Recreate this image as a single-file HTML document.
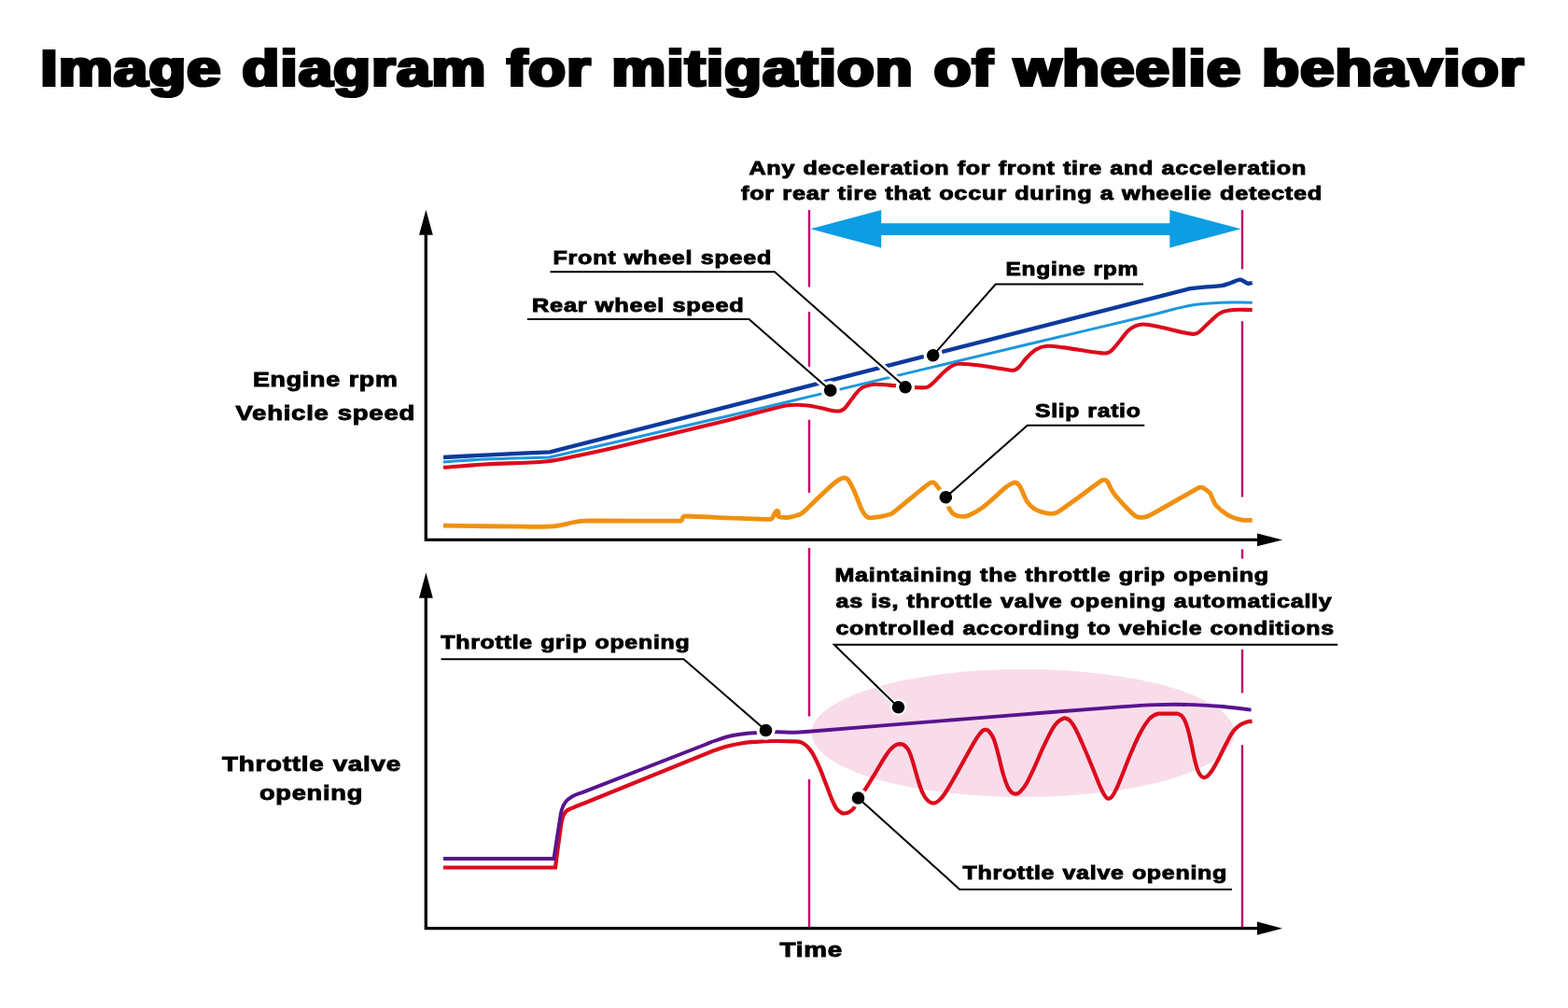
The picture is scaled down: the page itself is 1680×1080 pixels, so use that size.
<!DOCTYPE html>
<html lang="en"><head><meta charset="utf-8"><title>Image diagram for mitigation of wheelie behavior</title>
<style>html,body{margin:0;padding:0;background:#fff}svg{display:block}text{font-family:"Liberation Sans",Arial,Helvetica,sans-serif;font-weight:700;fill:#000;stroke:#000;stroke-linejoin:miter}.T{font-size:56px;letter-spacing:1.2px;word-spacing:2px;stroke-width:2.2px}.S{font-size:20.2px;letter-spacing:.6px;word-spacing:.5px;stroke-width:.9px}.A{font-size:21.4px;letter-spacing:.6px;word-spacing:.5px;stroke-width:.9px}</style></head><body>
<svg width="1680" height="1080" viewBox="0 0 1680 1080">
<defs><filter id="ft" filterUnits="userSpaceOnUse" x="0" y="0" width="1680" height="140"><feMorphology operator="dilate" radius="1 0"/></filter></defs>
<rect width="1680" height="1080" fill="#fff"/>
<ellipse cx="1096.2" cy="785.5" rx="226.6" ry="68.5" fill="#f9dcea"/>
<g stroke="#c2006a" stroke-width="2.4" fill="none">
<line x1="867.0" y1="225.0" x2="867.0" y2="307.5"/><line x1="867.0" y1="334.0" x2="867.0" y2="392.8"/><line x1="867.0" y1="449.8" x2="867.0" y2="528.0"/><line x1="867.0" y1="587.0" x2="867.0" y2="767.5"/><line x1="867.0" y1="835.0" x2="867.0" y2="994.0"/>
<line x1="1331.0" y1="225.0" x2="1331.0" y2="288.3"/><line x1="1331.0" y1="344.2" x2="1331.0" y2="532.5"/><line x1="1331.0" y1="588.5" x2="1331.0" y2="598.6"/><line x1="1331.0" y1="695.8" x2="1331.0" y2="742.5"/><line x1="1331.0" y1="798.2" x2="1331.0" y2="994.0"/>
</g>
<path d="M868.3 245.3L944.2 225V239.2H1253.3V225L1329.5 245.3L1253.3 265.5V252H944.2V265.5Z" fill="#0c9de4"/>
<g fill="none" stroke-linejoin="miter" stroke-miterlimit="3" stroke-linecap="butt">
<path d="M475.0 563.2C505.6 563.6 529.4 563.9 560.0 564.2C569.9 564.3 577.6 564.6 587.5 564.2C592.0 564.1 595.5 563.6 600.0 562.8C605.4 561.9 609.6 560.5 615.0 559.5C618.6 558.9 621.4 558.5 625.0 558.2C630.4 557.9 634.6 558.0 640.0 558.0C672.1 558.0 697.2 558.1 729.3 558.1C729.8 557.7 730.3 557.5 730.6 557.0C731.3 555.9 731.1 554.7 732.0 553.8C732.6 553.2 733.5 553.3 734.3 553.0C767.0 554.2 792.3 555.7 825.0 556.4C826.0 556.4 826.9 555.8 827.5 555.0C828.7 553.4 828.9 551.7 830.0 550.0C830.7 549.0 831.1 547.6 832.3 547.5C833.3 547.4 834.0 548.5 834.2 549.5C834.5 550.7 833.0 551.9 833.6 553.0C834.1 554.0 835.4 554.1 836.5 554.2C839.5 554.5 842.0 554.7 845.0 554.3C848.8 553.8 851.8 553.1 855.4 551.8C857.5 551.0 859.1 550.0 860.8 548.6C864.9 545.2 867.6 542.1 871.5 538.4C874.6 535.5 876.9 533.2 880.0 530.3C885.4 525.4 889.3 521.3 895.0 516.7C897.3 514.9 899.3 513.6 902.0 512.6C903.5 512.0 905.0 511.7 906.5 512.3C908.2 513.0 909.1 514.4 910.0 516.0C912.5 520.1 914.0 523.6 916.0 528.0C918.8 534.4 920.3 539.7 923.3 546.0C924.6 548.7 925.8 550.9 928.0 553.0C929.4 554.3 931.1 555.0 933.0 554.9C940.4 554.4 946.2 553.4 953.3 551.3C956.1 550.5 957.7 548.6 960.0 546.8C969.7 539.1 977.0 532.8 986.7 525.0C990.0 522.3 992.4 520.0 996.0 517.8C997.3 517.0 998.6 516.6 1000.0 516.9C1001.4 517.2 1002.1 518.4 1003.0 519.5C1005.7 522.8 1007.9 525.3 1010.0 529.0C1012.9 534.2 1013.9 538.8 1016.7 544.0C1018.2 546.8 1019.4 549.2 1022.0 551.0C1024.5 552.7 1027.0 553.2 1030.0 553.4C1032.9 553.6 1035.3 553.4 1038.0 552.2C1043.8 549.7 1048.2 547.1 1053.3 543.3C1062.8 536.1 1069.1 529.2 1078.3 521.7C1080.5 519.9 1082.4 518.7 1085.0 517.6C1086.3 517.1 1087.7 516.7 1089.0 517.3C1090.9 518.2 1092.0 519.7 1093.0 521.5C1096.0 526.7 1096.8 531.6 1100.0 536.7C1102.2 540.2 1104.6 542.7 1108.0 545.0C1111.2 547.2 1114.3 547.9 1118.0 549.0C1121.2 549.9 1123.7 550.6 1127.0 550.4C1129.6 550.3 1131.8 549.7 1134.0 548.2C1151.0 536.9 1163.4 527.0 1180.0 515.0C1181.3 514.7 1182.2 514.0 1183.5 514.2C1184.7 514.4 1185.8 515.0 1186.5 516.0C1188.2 518.3 1188.6 520.6 1190.0 523.0C1192.0 526.3 1193.5 529.0 1196.0 532.0C1201.8 538.8 1206.6 543.8 1213.0 550.0C1214.9 551.8 1216.5 553.2 1219.0 554.0C1221.4 554.8 1223.5 554.5 1226.0 554.2C1228.3 553.9 1230.0 553.3 1232.0 552.2C1250.2 542.3 1264.0 534.0 1282.0 523.8C1283.4 523.2 1284.5 522.3 1286.0 522.2C1287.5 522.1 1288.7 522.4 1290.0 523.2C1292.6 524.8 1294.6 526.2 1296.5 528.5C1297.9 530.2 1298.0 532.1 1299.0 534.0C1300.5 536.9 1301.1 539.6 1303.3 542.0C1307.0 546.0 1310.4 548.6 1315.0 551.5C1318.3 553.6 1321.3 554.6 1325.0 555.8C1327.8 556.7 1330.1 557.0 1333.0 557.3C1336.1 557.6 1338.6 557.4 1341.7 557.5" stroke="#f0900f" stroke-width="4.8"/>
<path d="M475.0 500.8C491.2 499.6 503.8 498.5 520.0 497.5C544.0 496.1 562.8 496.5 586.7 494.2C598.8 493.0 608.1 490.4 620.0 488.0C634.4 485.0 645.6 482.5 660.0 479.2C681.6 474.2 698.4 470.0 720.0 464.8C741.6 459.6 758.4 455.6 780.0 450.2C798.0 445.7 812.0 441.8 830.0 437.3C834.3 436.2 837.6 435.3 842.0 434.6C846.0 434.0 849.2 433.8 853.3 433.8C856.4 433.7 858.9 433.9 862.0 434.2C865.5 434.5 868.2 434.7 871.7 435.4C877.7 436.5 882.3 437.9 888.3 439.2C891.1 439.8 893.2 440.3 896.0 440.5C897.6 440.6 899.0 440.7 900.5 440.2C902.3 439.6 903.7 438.9 905.0 437.5C908.4 433.9 910.2 430.5 913.3 426.7C916.2 423.0 918.1 419.7 921.7 416.7C924.2 414.6 926.9 413.9 930.0 413.0C932.9 412.1 935.3 411.7 938.3 411.7C946.1 411.8 952.2 412.7 960.0 413.3C969.0 414.0 976.0 415.0 985.0 415.3C988.2 415.4 990.9 415.7 994.0 414.6C996.6 413.7 998.0 411.8 1000.0 410.0C1004.5 405.9 1007.4 402.0 1012.0 398.0C1015.3 395.1 1018.0 392.8 1022.0 391.0C1024.6 389.8 1027.1 389.6 1030.0 389.7C1037.2 389.8 1042.8 390.6 1050.0 391.5C1060.8 392.9 1069.2 394.7 1080.0 396.2C1082.5 396.5 1084.6 397.1 1087.0 396.5C1089.1 395.9 1090.5 394.6 1092.0 393.0C1095.2 389.8 1096.8 386.5 1100.0 383.3C1103.3 379.9 1105.8 376.9 1110.0 374.5C1113.8 372.3 1117.3 371.1 1121.7 370.8C1128.3 370.3 1133.4 371.6 1140.0 372.4C1153.7 374.2 1164.3 376.2 1178.0 378.0C1180.9 378.4 1183.2 378.8 1186.0 378.3C1188.0 377.9 1189.5 376.9 1191.0 375.5C1194.6 372.1 1196.8 368.8 1200.0 365.0C1203.3 361.1 1205.3 357.5 1209.0 354.0C1211.4 351.8 1213.7 350.4 1216.7 349.2C1219.5 348.1 1222.0 347.4 1225.0 347.5C1230.5 347.6 1234.6 348.7 1240.0 349.8C1251.6 352.1 1260.4 354.7 1272.0 357.0C1274.8 357.6 1277.1 358.1 1280.0 357.8C1282.0 357.6 1283.5 356.7 1285.0 355.5C1289.3 352.1 1291.9 348.6 1296.0 345.0C1300.3 341.2 1303.2 337.6 1308.3 335.0C1312.7 332.8 1316.8 332.4 1321.7 332.0C1328.9 331.4 1334.5 332.0 1341.7 332.0" stroke="#dc0a1c" stroke-width="4.1"/>
<path d="M475.0 495.0C491.2 494.0 503.8 492.8 520.0 492.1C544.6 491.0 563.8 490.8 588.5 490.0C657.4 474.1 711.1 461.8 780.0 445.7C815.7 437.4 843.5 430.6 879.2 422.1C958.7 403.1 1020.5 388.2 1100.0 369.2C1150.4 357.2 1189.6 348.1 1240.0 336.0C1246.5 334.4 1251.5 332.7 1258.0 331.2C1265.9 329.3 1272.0 327.6 1280.0 326.5C1290.0 325.1 1297.9 324.6 1308.0 324.2C1320.1 323.7 1329.6 324.2 1341.7 324.2" stroke="#1c97dc" stroke-width="3"/>
<path d="M475.0 490.0C491.2 489.1 503.8 488.4 520.0 487.6C544.9 486.4 564.3 485.5 589.2 484.3L1275.0 309.2C1280.4 308.6 1284.6 308.1 1290.0 307.6C1296.6 307.0 1301.8 307.2 1308.3 306.2C1312.3 305.6 1315.2 304.2 1319.0 303.0C1322.4 301.9 1324.8 300.1 1328.3 299.7C1330.1 299.5 1331.4 300.7 1333.0 301.5C1334.4 302.2 1335.2 303.4 1336.7 303.7C1338.5 304.0 1339.9 303.3 1341.7 303.0" stroke="#0c3a9c" stroke-width="4.3"/>
<path d="M475.0 929.5L595.0 929.5C597.0 914.6 598.4 902.9 600.6 888.0C601.2 883.6 601.5 880.1 602.8 875.8C603.6 873.2 604.6 871.2 606.5 869.3C608.4 867.4 610.6 866.9 613.0 865.8C618.3 863.4 622.6 862.0 628.0 859.8L765.0 804.0C769.5 802.6 772.9 801.2 777.5 800.0C783.7 798.4 788.6 797.2 795.0 796.2C800.4 795.3 804.6 795.1 810.0 794.8C817.2 794.3 822.8 794.1 830.0 794.0C837.2 793.9 842.8 794.1 850.0 794.4C852.7 794.5 854.9 794.2 857.5 795.0C860.0 795.8 861.8 797.0 863.8 798.8C866.4 801.1 868.2 803.3 870.0 806.2C873.1 811.4 875.0 815.7 877.5 821.2C880.5 827.9 882.3 833.2 885.0 840.0C887.3 845.8 888.8 850.5 891.2 856.2C892.8 859.9 893.9 862.9 896.2 866.2C897.6 868.2 899.2 869.4 901.2 870.6C902.4 871.3 903.6 871.6 905.0 871.5C906.9 871.4 908.4 871.0 910.0 870.0C912.1 868.8 913.7 867.6 915.0 865.6C917.2 862.2 917.3 858.8 919.4 855.4C921.9 851.3 924.8 848.9 927.5 845.0C931.4 839.3 933.9 834.6 937.5 828.8C941.6 822.0 944.5 816.6 948.8 810.0C950.8 806.9 952.5 804.6 955.0 801.9C956.6 800.3 958.0 799.1 960.0 798.1C961.4 797.4 962.8 797.2 964.4 797.2C966.0 797.3 967.5 797.5 968.8 798.5C971.0 800.2 972.5 801.9 973.8 804.4C976.2 809.3 977.1 813.5 978.8 818.8C980.7 825.0 981.8 830.0 983.8 836.2C985.4 841.3 986.5 845.2 988.8 850.0C990.1 852.9 991.4 855.3 993.8 857.5C995.6 859.2 997.5 860.6 1000.0 860.6C1002.5 860.6 1004.3 859.1 1006.2 857.5C1008.9 855.2 1010.6 852.9 1012.5 850.0C1017.3 842.6 1020.6 836.5 1025.0 828.8C1029.6 820.7 1032.9 814.3 1037.5 806.2C1040.6 800.8 1042.9 796.5 1046.2 791.2C1048.3 788.1 1049.8 785.6 1052.5 783.1C1053.5 782.1 1054.8 781.8 1056.2 781.9C1057.7 782.0 1059.0 782.6 1060.0 783.8C1062.3 786.5 1063.7 789.1 1065.0 792.5C1067.3 798.6 1068.3 803.7 1070.0 810.0C1071.9 817.2 1072.9 822.9 1075.0 830.0C1076.5 835.1 1077.8 839.0 1080.0 843.8C1081.0 845.8 1082.0 847.3 1083.8 848.8C1085.0 849.8 1086.4 850.6 1088.1 850.6C1089.8 850.6 1091.2 849.9 1092.5 848.8C1095.1 846.4 1096.9 844.3 1098.8 841.2C1102.4 835.2 1104.5 830.1 1107.5 823.8C1111.3 815.7 1113.7 809.3 1117.5 801.2C1120.9 794.0 1123.5 788.2 1127.5 781.2C1129.3 778.0 1131.1 775.7 1133.8 773.1C1135.2 771.6 1136.8 770.8 1138.8 770.0C1139.8 769.5 1140.8 769.3 1141.9 769.6C1143.6 770.0 1145.1 770.6 1146.2 771.9C1149.0 774.9 1150.6 777.7 1152.5 781.2C1155.5 786.9 1157.4 791.6 1160.0 797.5C1163.7 806.0 1166.5 812.7 1170.0 821.2C1172.8 828.0 1174.7 833.3 1177.5 840.0C1179.2 843.9 1180.5 846.9 1182.5 850.6C1183.4 852.2 1184.2 853.5 1185.6 854.8C1186.3 855.4 1187.2 855.8 1188.1 855.6C1189.4 855.4 1190.4 854.8 1191.2 853.8C1193.5 850.9 1194.7 848.3 1196.2 845.0C1198.8 839.7 1200.3 835.4 1202.5 830.0C1206.1 821.0 1208.7 813.9 1212.5 805.0C1215.9 797.2 1218.5 791.2 1222.5 783.8C1225.2 778.7 1227.6 774.9 1231.2 770.5C1232.8 768.5 1234.6 767.5 1236.8 766.2C1238.3 765.3 1239.8 765.2 1241.5 764.6L1261.2 764.6C1263.0 765.4 1264.8 765.4 1266.1 766.9C1268.5 769.6 1269.7 772.2 1270.9 775.6C1273.1 781.7 1274.1 786.6 1275.6 792.9C1277.5 800.8 1278.3 807.1 1280.3 815.0C1281.5 819.6 1282.1 823.4 1284.3 827.6C1285.6 830.1 1287.0 832.7 1289.8 833.1C1292.4 833.4 1294.3 831.1 1296.0 829.1C1299.5 825.0 1301.3 821.2 1303.9 816.5C1307.6 809.8 1309.8 804.3 1313.4 797.6C1316.1 792.5 1317.8 788.2 1321.3 783.5C1323.6 780.4 1326.0 778.6 1329.1 776.4C1331.1 775.0 1333.0 774.4 1335.4 773.7C1337.5 773.0 1339.3 773.0 1341.5 772.6" stroke="#dc0a1c" stroke-width="4.2"/>
<path d="M475.0 920.0L593.4 920.0C595.6 905.6 597.3 894.4 599.6 880.0C600.3 875.5 600.5 871.9 601.9 867.5C602.9 864.3 603.9 861.9 606.0 859.3C608.1 856.6 610.3 854.9 613.3 853.2C617.2 851.0 620.8 850.3 625.0 848.6L755.0 798.0C758.6 796.6 761.3 795.2 765.0 794.0C772.1 791.6 777.6 789.5 785.0 788.0C793.0 786.4 799.4 785.9 807.5 785.3C816.2 784.6 823.0 784.4 831.7 784.3C838.9 784.2 844.5 784.9 851.7 784.7C858.3 784.6 863.4 783.9 870.0 783.5C931.2 778.6 978.8 774.7 1040.0 769.9C1097.6 765.3 1142.4 761.7 1200.0 757.4C1214.2 756.3 1225.2 755.5 1239.4 755.1C1253.5 754.7 1264.6 754.7 1278.7 755.1C1290.1 755.4 1298.9 756.0 1310.2 757.0C1321.1 758.0 1329.6 759.3 1340.5 760.6" stroke="#58148e" stroke-width="3.9"/>
</g>
<g stroke="#000" stroke-width="3.3" fill="none" stroke-linejoin="miter">
<path d="M456.3 250V578.4H1350"/>
<path d="M456.3 639V994.7H1350"/>
</g>
<g fill="#000">
<path d="M456.4 224.8L463.8 251.7H449.0Z"/>
<path d="M456.4 613.6L463.8 640.7H449.0Z"/>
<path d="M1374.1 578.4L1347 571.4V585.3Z"/>
<path d="M1374 994.7L1347 987.5V1001.8Z"/>
</g>
<g fill="none" stroke="#fff" stroke-linejoin="miter">
<path stroke-width="7" d="M830.0 291.2L970.0 414.7"/>
<path stroke-width="7" d="M802.5 342.0L889.7 418.3"/>
<path stroke-width="7" d="M1066.7 304.6L999.7 380.8"/>
<path stroke-width="4.6" d="M1100.8 455.8L1013.3 532.8"/>
<path stroke-width="4.6" d="M732.5 706.2L820.5 782.5"/>
<path stroke-width="4.6" d="M893.8 690.8L962.5 757.8"/>
<path stroke-width="4.6" d="M1028.2 952.9L919.5 855.0"/>
</g>
<g fill="#fff">
<circle cx="970.0" cy="414.7" r="10.2"/>
<circle cx="889.7" cy="418.3" r="10.2"/>
<circle cx="999.7" cy="380.8" r="10.2"/>
<circle cx="1013.3" cy="532.8" r="10.2"/>
<circle cx="820.5" cy="782.5" r="10.2"/>
<circle cx="962.5" cy="757.8" r="8.8"/>
<circle cx="919.5" cy="855.0" r="10.2"/>
</g>
<g fill="none" stroke="#000" stroke-width="2" stroke-linejoin="miter">
<path d="M589.5 291.2L830.0 291.2L970.0 414.7"/>
<path d="M565.0 342.0L802.5 342.0L889.7 418.3"/>
<path d="M1225.0 304.6L1066.7 304.6L999.7 380.8"/>
<path d="M1226.3 455.8L1100.8 455.8L1013.3 532.8"/>
<path d="M472.5 706.2L732.5 706.2L820.5 782.5"/>
<path d="M1433.2 690.8L893.8 690.8L962.5 757.8"/>
<path d="M1320.0 952.9L1028.2 952.9L919.5 855.0"/>
</g>
<g fill="#000">
<circle cx="970.0" cy="414.7" r="6.8"/>
<circle cx="889.7" cy="418.3" r="6.8"/>
<circle cx="999.7" cy="380.8" r="6.8"/>
<circle cx="1013.3" cy="532.8" r="6.8"/>
<circle cx="820.5" cy="782.5" r="6.8"/>
<circle cx="962.5" cy="757.8" r="6.8"/>
<circle cx="919.5" cy="855.0" r="6.8"/>
</g>
<g filter="url(#ft)">
<text class="T" x="43.50" y="92.00" textLength="1590.00" lengthAdjust="spacingAndGlyphs">Image diagram for mitigation of wheelie behavior</text>
</g>
<g>
<text class="S" x="802.50" y="187.00" textLength="597.50" lengthAdjust="spacingAndGlyphs">Any deceleration for front tire and acceleration</text>
<text class="S" x="794.00" y="214.20" textLength="623.01" lengthAdjust="spacingAndGlyphs">for rear tire that occur during a wheelie detected</text>
<text class="S" x="592.50" y="283.40" textLength="234.52" lengthAdjust="spacingAndGlyphs">Front wheel speed</text>
<text class="S" x="570.00" y="334.25" textLength="227.54" lengthAdjust="spacingAndGlyphs">Rear wheel speed</text>
<text class="S" x="1077.50" y="295.30" textLength="142.52" lengthAdjust="spacingAndGlyphs">Engine rpm</text>
<text class="S" x="1109.00" y="447.20" textLength="113.51" lengthAdjust="spacingAndGlyphs">Slip ratio</text>
<text class="S" x="894.50" y="622.50" textLength="465.26" lengthAdjust="spacingAndGlyphs">Maintaining the throttle grip opening</text>
<text class="S" x="895.50" y="651.25" textLength="532.00" lengthAdjust="spacingAndGlyphs">as is, throttle valve opening automatically</text>
<text class="S" x="895.50" y="680.00" textLength="534.25" lengthAdjust="spacingAndGlyphs">controlled according to vehicle conditions</text>
<text class="S" x="472.25" y="695.00" textLength="267.26" lengthAdjust="spacingAndGlyphs">Throttle grip opening</text>
<text class="S" x="1031.50" y="941.50" textLength="283.51" lengthAdjust="spacingAndGlyphs">Throttle valve opening</text>
</g>
<g>
<text class="A" x="271.00" y="414.40" textLength="155.52" lengthAdjust="spacingAndGlyphs">Engine rpm</text>
<text class="A" x="252.50" y="449.70" textLength="192.51" lengthAdjust="spacingAndGlyphs">Vehicle speed</text>
<text class="A" x="238.00" y="825.90" textLength="192.00" lengthAdjust="spacingAndGlyphs">Throttle valve</text>
<text class="A" x="278.00" y="856.90" textLength="111.04" lengthAdjust="spacingAndGlyphs">opening</text>
<text class="A" x="835.50" y="1025.40" textLength="67.52" lengthAdjust="spacingAndGlyphs">Time</text>
</g>
</svg></body></html>
